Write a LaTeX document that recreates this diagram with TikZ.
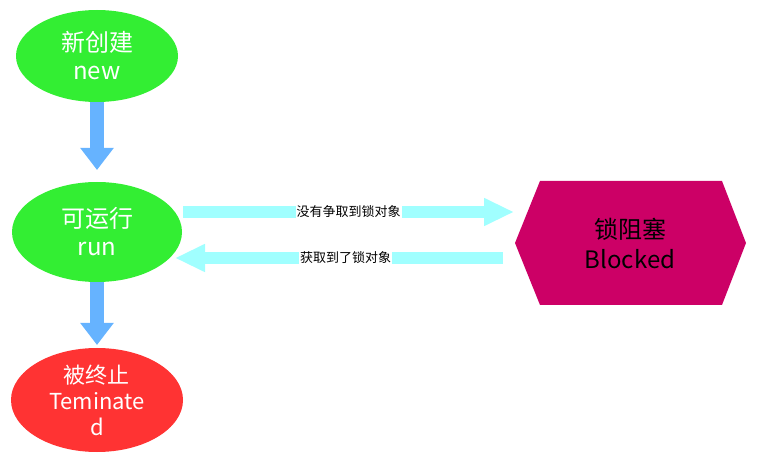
\documentclass[tikz,border=0pt]{standalone}
\usepackage{fontspec}
\setmainfont{Noto Sans CJK SC}
\usetikzlibrary{arrows.meta,shapes.geometric}
\definecolor{grn}{HTML}{33EE33}
\definecolor{rd}{HTML}{FF3333}
\definecolor{mag}{HTML}{CC0066}
\definecolor{blu}{HTML}{66B3FF}
\definecolor{cyn}{HTML}{A0FFFF}
\begin{document}
\begin{tikzpicture}[x=1pt,y=-1pt,
  st/.style={ellipse,draw=none,text=white,align=center,font=\fontsize{24}{28}\selectfont,inner sep=0pt},
  va/.style={blu,line width=14pt,-{Triangle[length=22pt,width=32pt]}},
  ha/.style={cyn,line width=12pt,-{Triangle[length=30pt,width=26pt]}},
  lb/.style={fill=white,inner sep=1pt,text=black,font=\fontsize{13}{15}\selectfont}]
\useasboundingbox (0,0) rectangle (780,457);
\node[st,fill=grn,minimum width=162pt,minimum height=92pt] (new) at (97,56) {新创建\\new};
\node[st,fill=grn,minimum width=170pt,minimum height=100pt] (run) at (97,232) {可运行\\run};
\node[st,fill=rd,minimum width=172pt,minimum height=104pt,font=\fontsize{22}{26}\selectfont] (term) at (97,400) {被终止\\Teminate\\d};
\fill[mag] (515,243) -- (540,181) -- (722,181) -- (746,243) -- (722,305) -- (540,305) -- cycle;
\node[align=center,font=\fontsize{24}{30}\selectfont] (blk) at (630,243) {锁阻塞\\Blocked};
\coordinate (a1) at (97,102); \coordinate (a2) at (97,170);
\draw[va] (a1) -- (a2);
\coordinate (b1) at (97,282); \coordinate (b2) at (97,345);
\draw[va] (b1) -- (b2);
\coordinate (c1) at (183,212); \coordinate (c2) at (514,212);
\draw[ha] (c1) -- (c2) node[lb,midway] (l1) {没有争取到锁对象};
\coordinate (d1) at (503,258); \coordinate (d2) at (175,258);
\draw[ha] (d1) -- (d2) node[lb,pos=0.48] (l2) {获取到了锁对象};
\end{tikzpicture}
\end{document}
